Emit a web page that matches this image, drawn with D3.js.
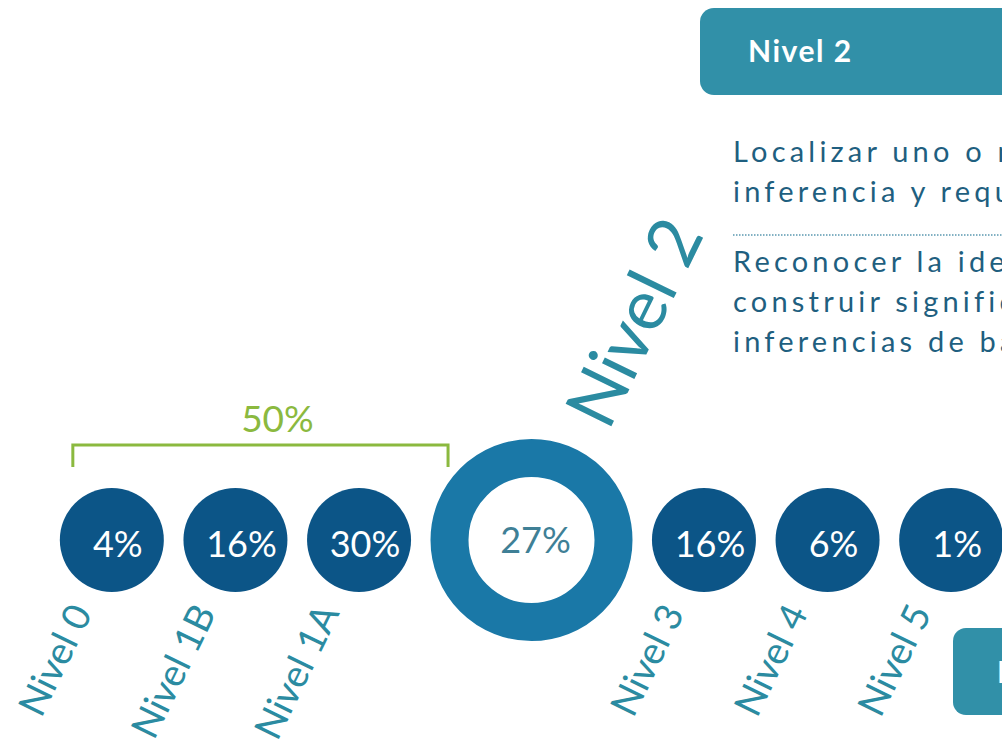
<!DOCTYPE html>
<html>
<head>
<meta charset="utf-8">
<script src="https://cdn.jsdelivr.net/npm/d3@7"></script>
<style>
  body { margin: 0; background: #ffffff; }
  svg text { font-family: Lato, "Open Sans", sans-serif; }
</style>
</head>
<body>
<div class="chart"></div>
<script>
// Data
var levels = ["Nivel 0", "Nivel 1B", "Nivel 1A", "Nivel 2", "Nivel 3", "Nivel 4", "Nivel 5"];
var shares = [4, 16, 30, 27, 16, 6, 1];
var highlight = "Nivel 2";
var belowLevels = ["Nivel 0", "Nivel 1B", "Nivel 1A"];

var boxTitle = "Nivel 2";
var boxLines1 = [
  "Localizar uno o más fragmentos de información, que pueden requerir",
  "inferencia y requerir cumplir varias condiciones."
];
var boxLines2 = [
  "Reconocer la idea principal de un texto, comprender relaciones y",
  "construir significados dentro de una parte limitada del texto, hacer",
  "inferencias de bajo nivel."
];
var nextBoxTitle = "Nivel 3";

// Svg
var svgWidth = 1002;
var svgHeight = 746;

var svg = d3.select(".chart")
  .append("svg")
  .attr("width", svgWidth)
  .attr("height", svgHeight);

// colours
var darkBlue = "#0c5587";
var ringBlue = "#1a78a7";
var teal = "#2b8ba1";
var boxTeal = "#3190a8";
var textBlue = "#1f5f80";
var green = "#8bb93f";

// radius and spacing in layout units
var smallR = 52;
var bigR = 101;
var gap = 20;
var rowY = 540;

var data = levels.map(function(l, i) {
  return { level: l, value: shares[i], r: l === highlight ? bigR : smallR };
});

// cumulative position of each centre
var acc = 0;
data.forEach(function(d, i) {
  if (i > 0) acc += gap;
  d.pos = acc + d.r;
  acc += 2 * d.r;
});

var xScale = d3.scaleLinear()
  .domain([0, acc])
  .range([60, 1003]);

// Header box
svg.append("rect")
  .attr("x", 700)
  .attr("y", 8)
  .attr("width", 340)
  .attr("height", 87)
  .attr("rx", 14)
  .attr("fill", boxTeal);

svg.append("text")
  .attr("x", 748)
  .attr("y", 62)
  .attr("fill", "#ffffff")
  .attr("font-size", 30)
  .attr("font-weight", 700)
  .attr("letter-spacing", 1.5)
  .text(boxTitle);

// description text
var bodyGroup = svg.append("g")
  .attr("fill", textBlue)
  .attr("font-size", 29)
  .attr("letter-spacing", 4.2);

bodyGroup.selectAll(".line1")
  .data(boxLines1)
  .enter()
  .append("text")
  .attr("class", "line1")
  .attr("x", 733)
  .attr("y", (d, i) => 162 + i * 40)
  .text(d => d);

svg.append("line")
  .attr("x1", 733)
  .attr("x2", 1002)
  .attr("y1", 235)
  .attr("y2", 235)
  .attr("stroke", "#5a98b0")
  .attr("stroke-width", 1.5)
  .attr("stroke-dasharray", "1.5,1.5");

bodyGroup.selectAll(".line2")
  .data(boxLines2)
  .enter()
  .append("text")
  .attr("class", "line2")
  .attr("x", 733)
  .attr("y", (d, i) => 272 + i * 40)
  .text(d => d);

// bottom right box (cut off)
svg.append("rect")
  .attr("x", 953)
  .attr("y", 628)
  .attr("width", 200)
  .attr("height", 87)
  .attr("rx", 13)
  .attr("fill", boxTeal);

svg.append("text")
  .attr("x", 997)
  .attr("y", 683)
  .attr("fill", "#ffffff")
  .attr("font-size", 30)
  .attr("font-weight", 700)
  .text(nextBoxTitle);

// green bracket over the levels below 2
var below = data.filter(d => belowLevels.indexOf(d.level) >= 0);
var bx1 = xScale(below[0].pos) - 39;
var bx2 = xScale(below[below.length - 1].pos) + 89;

svg.append("path")
  .attr("d", `M${bx1},467 V445 H${bx2} V467`)
  .attr("fill", "none")
  .attr("stroke", green)
  .attr("stroke-width", 3);

svg.append("text")
  .attr("x", (bx1 + bx2) / 2 + 17)
  .attr("y", 432)
  .attr("text-anchor", "middle")
  .attr("fill", green)
  .attr("font-size", 37)
  .text(d3.sum(below, d => d.value) + "%");

// circles
var circlesGroup = svg.selectAll(".levelCircle")
  .data(data)
  .enter()
  .append("circle")
  .attr("class", "levelCircle")
  .attr("cx", d => xScale(d.pos))
  .attr("cy", rowY)
  .attr("r", d => d.level === highlight ? d.r - 19 : d.r)
  .attr("fill", d => d.level === highlight ? "#ffffff" : darkBlue)
  .attr("stroke", d => d.level === highlight ? ringBlue : "none")
  .attr("stroke-width", d => d.level === highlight ? 38 : 0);

// percentages
svg.selectAll(".pctText")
  .data(data)
  .enter()
  .append("text")
  .attr("class", "pctText")
  .attr("x", d => xScale(d.pos) + (d.level === highlight ? 4 : 6))
  .attr("y", d => d.level === highlight ? 553 : 557)
  .attr("text-anchor", "middle")
  .attr("fill", d => d.level === highlight ? "#3f8096" : "#ffffff")
  .attr("font-size", 36)
  .text(d => d.value + "%");

// rotated level labels
svg.selectAll(".levelLabel")
  .data(data.filter(d => d.level !== highlight))
  .enter()
  .append("text")
  .attr("class", "levelLabel")
  .attr("transform", d => `translate(${xScale(d.pos) - 19}, 613) rotate(-64)`)
  .attr("text-anchor", "end")
  .attr("fill", teal)
  .attr("font-size", 38)
  .text(d => d.level);

// big label for highlighted level
var hl = data.filter(d => d.level === highlight)[0];
svg.append("text")
  .attr("transform", `translate(${xScale(hl.pos) + 77}, 432) rotate(-64)`)
  .attr("fill", teal)
  .attr("font-size", 71)
  .text(hl.level);
</script>
</body>
</html>
